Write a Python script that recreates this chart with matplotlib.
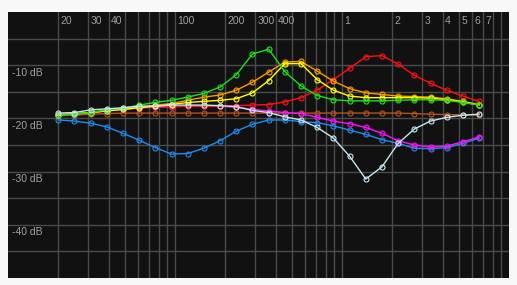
import matplotlib
matplotlib.use("Agg")
import matplotlib.pyplot as plt

freqs = [20, 25, 31.25, 39.06, 48.83, 61.04, 76.29, 95.37, 119.2, 149.0, 186.3, 232.8,
         291.0, 363.8, 454.7, 568.4, 710.5, 888.2, 1110, 1388, 1735, 2168, 2711,
         3388, 4235, 5294, 6617]

brown = [-19.5, -19.4, -19.2, -19.1, -19.0, -19.0, -19.0, -19.0, -19.0, -19.0, -19.0, -19.0,
         -19.0, -19.0, -19.0, -19.0, -19.0, -19.0, -19.0, -19.0, -19.0, -19.0, -19.1,
         -19.2, -19.3, -19.3, -19.4]
blue = [-20.3, -20.5, -20.9, -21.6, -22.8, -24.1, -25.5, -26.7, -26.6, -25.6, -24.2, -22.4,
        -21.1, -20.3, -20.3, -20.6, -20.8, -21.4, -22.2, -23.0, -24.0, -24.7, -25.6,
        -25.7, -25.5, -24.7, -23.7]
magenta = [-19.3, -19.2, -18.9, -18.6, -18.3, -18.0, -17.9, -17.8, -17.7, -17.7, -17.7, -17.9,
           -18.3, -18.6, -18.9, -19.1, -19.8, -20.5, -21.0, -21.7, -22.8, -24.2, -25.0,
           -25.4, -25.2, -24.4, -23.5]
red = [-19.3, -19.2, -18.9, -18.6, -18.3, -18.0, -17.9, -17.8, -17.7, -17.7, -17.7, -17.6,
       -17.5, -17.4, -16.9, -16.1, -14.7, -12.7, -10.6, -8.4, -8.2, -9.8, -11.9,
       -13.4, -14.7, -15.8, -16.8]
orange = [-19.3, -19.1, -18.9, -18.5, -18.2, -17.9, -17.5, -17.2, -16.6, -16.0, -15.6, -14.7,
          -13.2, -11.3, -9.4, -9.3, -11.1, -13.0, -14.4, -15.2, -15.5, -15.8, -15.9,
          -16.0, -16.3, -16.8, -17.4]
yellow = [-19.3, -19.2, -18.9, -18.6, -18.3, -18.0, -17.7, -17.4, -17.0, -16.8, -16.6, -16.3,
          -15.2, -12.9, -9.7, -9.7, -12.7, -14.7, -15.8, -16.1, -16.1, -16.1, -16.1,
          -16.2, -16.5, -16.9, -17.5]
green = [-19.4, -19.2, -18.9, -18.4, -18.1, -17.5, -17.0, -16.6, -16.0, -15.3, -14.1, -11.8,
         -7.9, -7.0, -11.2, -13.9, -15.7, -16.5, -16.7, -16.7, -16.7, -16.6, -16.5,
         -16.5, -16.6, -17.0, -17.5]
lightblue = [-19.0, -18.9, -18.4, -18.2, -18.0, -17.7, -17.7, -17.5, -17.5, -17.5, -17.6, -17.8,
             -18.5, -18.9, -19.7, -20.3, -21.7, -23.7, -27.1, -31.4, -29.1, -24.7, -22.0,
             -20.5, -19.8, -19.4, -19.2]

series = [
    (brown, "#b3521f"),
    (blue, "#1e8cf0"),
    (magenta, "#ff10ff"),
    (red, "#ff1010"),
    (orange, "#ff9a00"),
    (yellow, "#ffff00"),
    (green, "#1ee01e"),
    (lightblue, "#c4e6f0"),
]

y_ticks = [-10, -20, -30, -40]
y_labels = ["-10 dB", "-20 dB", "-30 dB", "-40 dB"]
x_label_pos = [20, 30, 40, 100, 200, 300, 400, 1000, 2000, 3000, 4000, 5000, 6000, 7000]
x_labels = ["20", "30", "40", "100", "200", "300", "400", "1", "2", "3", "4", "5", "6", "7"]

fig = plt.figure(figsize=(5.17, 2.85), dpi=100, facecolor="#f8f8f8")
ax = fig.add_axes([8 / 517, 1 - 278 / 285, 501 / 517, 266 / 285])
ax.set_facecolor("#111111")
ax.set_xscale("log")
ax.set_xlim(10, 10000)
ax.set_ylim(-50, 0)
for s in ax.spines.values():
    s.set_visible(False)
ax.set_xticks([])
ax.set_yticks([])
ax.minorticks_off()

grid_c = "#4a4a4a"
for dec in [10, 100, 1000]:
    for m in range(1, 10):
        f = dec * m
        if f <= 10:
            continue
        ax.axvline(f, color=grid_c, lw=1.0, zorder=1)
for db in range(-5, -50, -5):
    ax.axhline(db, color=grid_c, lw=1.0, zorder=1)

txt_c = "#a0a0a0"
for v, lab in zip(y_ticks, y_labels):
    ax.annotate(lab, xy=(0, v), xycoords=("axes fraction", "data"), xytext=(4, -2.5),
                textcoords="offset pixels", ha="left", va="top", color=txt_c,
                fontsize=7.5, family="Liberation Sans")
for f, lab in zip(x_label_pos, x_labels):
    ax.annotate(lab, xy=(f, 0), xycoords="data", xytext=(2.5, -3.5),
                textcoords="offset pixels", ha="left", va="top", color=txt_c,
                fontsize=7.5, family="Liberation Sans")

for vals, c in series:
    ax.plot(freqs, vals, color=c, lw=1.0, marker="o", ms=3.6, mfc="none", mec=c,
            mew=0.8, zorder=3)

fig.savefig("out.png", dpi=100, facecolor=fig.get_facecolor())
